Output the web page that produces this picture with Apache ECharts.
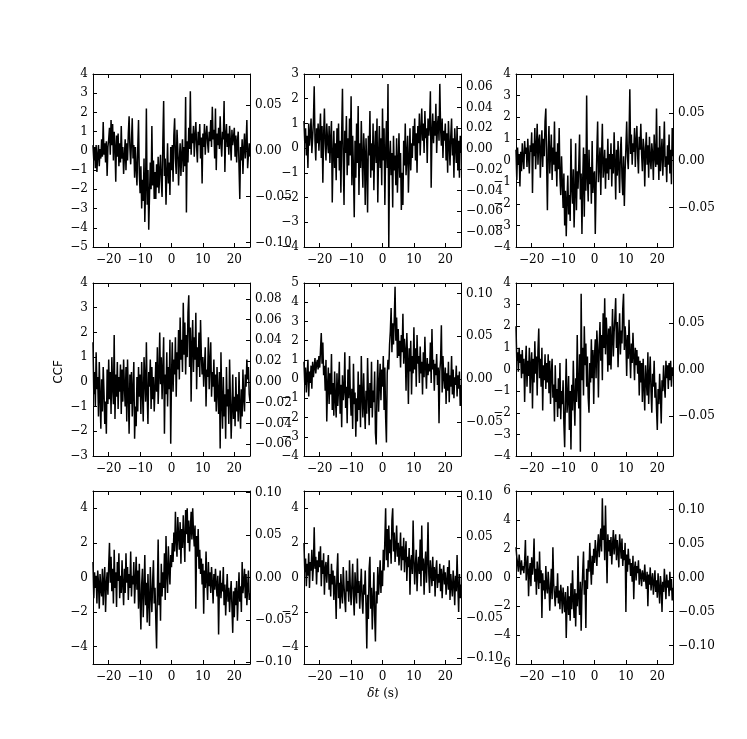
<!DOCTYPE html>
<html>
<head>
<meta charset="utf-8">
<script src="https://cdn.jsdelivr.net/npm/echarts@6/dist/echarts.min.js"></script>
<style>
  html, body { margin: 0; padding: 0; background: #fff; }
  #chart { width: 747px; height: 739px; }
</style>
</head>
<body>
<div id="chart"></div>
<script>
// lag axis: -25 s .. 25 s, one sample every 0.25 s
const lagStart = -25
const lagStep = 0.25
const xTicks = [-20, -10, 0, 10, 20]

// CCF values (row, column)
const ccf11 = [
  0.3, -0.5, 0.2, -0.9, 0.3, -1.1, -0.2, 0.3, -0.8, 0.1, -0.4, 0.6, -0.3, 1.5, -0.2, 0.4, -0.6, 0.5, -1.3, 0.2,
  0.6, 1.2, -0.2, 1.6, 0.3, 1.4, -0.5, 1.0, 0.2, -1.6, 0.8, -0.3, 0.9, -0.8, 0.4, -0.6, 1.3, -0.4, 0.2, -1.2,
  -0.3, 0.6, -1.0, 0.4, -0.5, 0.9, 1.8, 0.2, -0.7, 0.5, 1.7, -0.4, 0.3, -1.4, 0.2, -0.9, -1.8, 0.1, 1.6, -1.2,
  -2.2, -0.8, -3.0, -1.5, -2.6, -0.4, -3.7, -1.9, 2.2, -2.8, -1.0, -4.1, -2.3, -0.6, -2.0, 1.3, -1.8, -0.5, -2.5, -1.1,
  -2.5, -0.7, -1.9, -0.3, -2.2, -1.0, -0.2, -1.6, -2.4, 0.5, 2.6, -1.3, -0.4, -2.8, -1.1, 0.4, -1.7, -0.6, -2.3, 0.2,
  -1.0, 0.3, -1.6, 0.8, 1.7, -0.4, -1.2, 1.1, 0.1, -1.8, -0.5, 0.4, -1.3, -0.2, 0.6, -1.1, 0.2, -0.8, 2.8, -3.2,
  0.5, -0.6, 1.2, 0.1, 3.1, -0.2, 0.9, 0.4, 1.3, -0.3, 0.8, 1.5, 0.2, -0.6, 1.0, 0.3, 1.4, -0.4, 0.7, -1.7,
  0.9, 0.2, 1.4, -0.2, 0.8, 1.3, 0.4, -0.1, 1.0, 0.5, 1.6, 0.2, 2.3, 0.6, 1.1, -0.4, 2.2, -1.0, 0.9, 0.3,
  1.2, 0.1, 1.8, 0.4, -0.3, 1.0, 0.6, 2.6, -1.1, 0.8, 1.4, 0.2, 0.9, -0.2, 1.3, 0.5, -0.5, 1.1, 0.3, 0.7,
  1.2, -0.3, 0.8, -0.6, 0.5, 1.0, -0.8, -2.5, 0.2, -0.5, 0.6, -1.2, 0.1, 0.9, -0.4, 0.3, 1.6, -0.9, -0.2, 0.4,
  -0.3
]
const ccf12 = [
  1.1, 0.2, 0.8, -0.3, 0.5, -0.8, 1.0, 0.1, 0.6, 1.2, -0.2, 0.4, 1.1, 2.5, 0.3, -0.5, 0.8, 0.2, 1.0, -0.1,
  0.6, 1.4, -0.4, 0.9, -1.4, 0.5, 1.6, 0.2, -0.5, 1.0, 0.3, -0.2, 0.9, -0.6, 0.4, 1.1, -2.2, -0.3, 0.7, -0.8,
  0.2, -1.3, 0.8, -0.4, 1.0, -0.9, 0.3, -1.8, 0.6, 2.4, -0.5, -2.3, 0.7, -0.2, 1.3, -1.1, 0.4, -0.7, 1.2, -0.3,
  2.1, -1.5, 0.5, -0.9, -2.8, 0.3, -1.2, 1.0, -0.6, 1.7, -1.9, 0.2, -0.8, 1.1, -0.4, -1.6, 0.6, -0.2, -2.3, 0.4,
  -0.7, -2.6, 0.5, -0.3, 1.5, -1.2, 0.2, -0.9, 1.0, -1.7, -0.1, 0.7, -0.6, 1.2, -2.2, -0.3, 0.9, -0.8, 0.4, -1.5,
  1.6, -0.5, 0.8, -2.3, -0.2, 1.1, -0.8, 2.6, -4.0, -0.4, 0.3, -1.1, -0.2, -2.4, 0.5, -0.9, -0.3, -1.5, 0.4, -1.8,
  -0.6, 0.6, -1.2, -0.2, -2.5, -1.0, -2.3, 0.3, -0.7, 1.0, -1.1, -0.3, 0.5, -1.8, -0.5, 0.8, -0.9, 0.2, -0.4, 0.9,
  0.1, 1.2, -0.5, 0.6, -1.0, 0.9, 0.2, 1.4, -0.3, 0.7, 1.6, 0.3, 1.0, -0.2, 1.5, 0.4, 0.8, -0.6, 1.2, 0.5,
  1.0, 2.3, -1.6, 0.6, 1.4, 0.2, 1.1, 0.5, 1.8, -0.2, 0.9, 1.3, 0.3, 2.6, 0.8, 0.1, 1.2, -0.4, 0.7, 0.3,
  1.0, -0.5, 0.6, -1.0, 1.1, 0.2, -0.7, 0.5, 1.2, -0.3, 0.4, -1.2, 0.8, 0.1, -0.6, 0.9, -0.9, 0.3, -1.2, 0.5,
  -0.2
]
const ccf13 = [
  0.5, -0.9, 0.6, -0.2, 0.3, -1.2, 0.4, -0.5, 0.8, 0.1, -0.4, 0.9, 0.3, 0.6, -0.3, 1.0, 0.2, -0.6, 0.7, 0.4,
  1.3, -1.5, 0.8, 0.2, 1.5, -0.4, 0.6, 1.7, -0.2, 0.9, 1.2, -0.8, 0.5, 1.4, -0.3, 1.0, 0.2, 1.8, 2.4, -0.1,
  -2.3, 0.5, 1.6, -0.6, 0.3, 1.2, -0.9, 0.6, -0.2, 1.8, -0.5, 0.4, -1.2, 0.8, -0.4, 1.5, -0.8, -1.6, 0.2, -1.0,
  -2.2, -0.6, -3.0, -1.4, -3.5, -1.8, -0.7, -2.5, -1.6, -2.8, 1.0, -1.2, -2.0, -0.4, -3.1, -1.5, 0.8, -2.3, -0.5, -1.3,
  -0.2, 1.2, -1.8, -0.6, -3.4, -0.9, 0.6, -2.6, 0.3, -1.4, 3.0, -0.8, -1.9, 0.5, -1.1, -0.3, -2.0, 0.9, -1.5, -0.7,
  -0.5, -3.4, -1.2, 0.4, 1.8, -1.0, -0.2, 0.6, -1.6, 0.2, 1.7, -0.8, -0.3, 0.5, -1.3, 0.1, -0.6, 1.0, -0.9, 0.3,
  -0.4, 0.8, -1.2, 0.3, -0.6, 1.3, -0.1, -1.8, 0.5, -0.7, 0.9, -0.3, -1.5, 0.4, 1.1, -0.8, -1.6, 0.2, -2.1, -0.5,
  0.6, 1.8, 0.2, -0.4, 1.0, 3.3, 0.3, 1.2, -0.2, 0.8, 0.4, 1.5, -0.3, 0.9, 1.6, 0.2, -0.6, 1.1, 0.5, 1.7,
  0.3, -0.5, 1.0, 0.6, -1.2, 0.4, 1.3, -0.2, 0.7, -0.8, 1.1, 0.1, -0.4, 0.8, 0.3, -0.9, 1.2, 0.2, -0.3, 2.4,
  -0.2, 0.6, -0.9, 1.6, -0.5, 0.3, 1.0, -0.7, 0.4, 1.8, -0.3, 0.2, -1.0, 0.7, -0.2, 1.2, -0.6, 0.5, -1.1, 1.5,
  0.2
]
const ccf21 = [
  1.6, -0.5, 0.4, -1.0, 1.2, -0.3, 0.2, -1.4, 0.8, -0.6, -1.9, 0.1, -1.2, 0.6, -0.4, -1.7, -0.8, -2.1, 0.5, -0.9,
  0.9, -0.7, 0.4, -1.3, 1.0, -0.2, -0.9, 1.9, -1.5, 0.3, -0.6, 0.8, -1.1, 0.2, -0.4, 0.7, -1.3, 0.5, -0.8, 0.9,
  -0.2, -1.0, 0.6, -1.6, 0.9, -0.5, -2.1, 0.3, -0.9, 0.4, -1.4, -0.3, 0.8, -2.3, -1.0, -1.8, 0.2, -1.2, 0.6, -0.6,
  0.3, -1.3, 0.8, -0.4, -1.6, 1.0, 0.1, -0.8, 1.6, -0.5, -1.7, 0.4, -0.2, 0.9, -1.1, 0.6, -0.7, 0.2, -1.2, -0.3,
  0.8, -0.4, 1.4, -0.9, 0.2, 2.0, -0.1, 1.0, -0.7, 0.5, 1.8, -2.1, 0.3, -0.5, 1.2, -1.0, 0.6, -0.3, 1.7, -2.5,
  0.2, 1.6, -0.4, 0.9, 0.3, 1.8, -0.6, 1.2, 0.5, 2.1, 0.1, 2.6, 0.9, 1.7, 0.4, 3.2, 1.1, 2.4, 0.3, 1.9,
  1.0, 2.8, 3.5, 0.6, 2.2, -0.8, 1.5, 2.5, 0.4, 1.8, 0.9, 2.8, -0.3, 1.4, 0.6, 2.0, 0.2, 2.5, 1.1, 0.3,
  1.0, -0.2, 0.6, 1.4, -1.0, 0.5, 0.2, 1.8, -0.3, 0.8, 1.6, -0.6, 0.4, -0.2, 0.9, -0.8, 0.3, -1.2, 0.6, -0.4,
  -1.3, 0.4, -2.7, 1.2, -0.8, -1.9, 0.2, -1.4, -0.5, -2.3, 0.6, -1.0, -0.3, -1.7, 0.9, -0.6, -2.3, -1.1, 0.3, -1.5,
  -0.6, -1.8, 0.2, -1.2, -0.5, -1.6, 0.4, -1.0, -1.9, -0.3, -1.4, 0.5, -0.7, -1.2, 0.3, -0.2, 0.9, 0.1, 0.6, -0.5,
  -0.8
]
const ccf22 = [
  0.9, -0.3, 0.6, -0.7, 0.2, 1.0, -0.9, 0.4, -0.2, 0.7, -0.5, 0.9, 0.1, 0.6, 1.1, 0.3, 0.8, 1.0, 0.5, 1.2,
  0.6, 1.5, 2.4, 0.8, 1.9, 0.2, 0.7, -0.6, 1.0, -2.2, -0.4, 0.6, -1.3, 0.3, -0.8, 1.3, -1.6, -0.2, -1.9, 0.4,
  -1.0, -2.0, 0.3, -1.4, -0.5, 0.9, -1.8, -0.3, -2.5, 0.2, -1.1, -0.6, 1.4, -1.5, -0.4, -2.3, 0.5, -1.0, 1.2, -0.8,
  -1.9, -0.5, -2.6, 0.8, -1.3, -0.7, -3.0, -1.0, -2.2, 0.4, -1.6, -0.3, -2.5, 1.2, -0.9, -2.0, 0.3, -1.4, -2.6, -0.6,
  -1.8, 1.1, -0.8, -2.4, -0.2, -1.5, 0.9, -2.0, -0.6, -1.2, 0.4, -2.8, -3.4, -0.5, 1.0, -1.7, -0.3, 0.8, -1.1, 0.5,
  -0.4, 1.2, -1.6, 0.6, -2.0, -3.3, 0.3, 1.0, 0.5, 1.8, 2.5, 3.7, 1.4, 2.9, 1.8, 3.1, 4.8, 2.0, 3.2, 1.1,
  2.6, 1.2, 2.0, 0.6, 2.3, 1.4, 3.4, 0.8, 2.1, 1.5, -0.6, 2.4, 0.9, -1.3, 1.6, 0.4, 2.0, -0.8, 1.2, 0.3,
  2.7, 0.5, 1.6, -0.4, 2.3, 0.8, 1.2, -0.2, 1.7, 0.3, 0.9, -0.8, 1.4, 0.1, 2.2, 0.6, -0.5, 1.1, 0.2, 0.8,
  0.4, 1.9, -0.2, 2.6, 0.5, 1.0, -0.6, 0.8, 0.2, 1.3, -0.3, 0.6, -2.3, 0.4, 1.0, 2.8, -0.7, 1.2, 0.1, -0.5,
  0.6, -1.3, 0.3, -0.6, 0.9, -1.2, 0.2, -0.4, 1.2, -0.8, 0.5, -1.0, 0.1, -0.3, 0.7, -0.9, 0.2, -0.5, 0.4, -1.4,
  -0.3
]
const ccf23 = [
  2.0, 0.4, 0.8, -0.1, 1.0, 0.3, 0.7, -0.4, 0.9, -0.2, 0.5, -1.5, 0.2, 1.1, -0.8, 0.4, -0.3, 1.0, -1.1, 0.2,
  0.8, -1.8, 0.5, -0.6, 1.3, -0.2, 0.6, -1.2, 0.9, 1.9, -0.4, 0.5, -0.8, 1.0, -1.9, 0.2, -0.5, 0.7, -0.9, 0.3,
  -0.6, 0.7, -1.1, 0.4, -1.6, -0.2, 0.5, -1.3, -0.7, -2.4, 0.2, -1.5, -0.9, -2.2, -0.4, -1.8, 0.3, -2.3, -1.0, -1.6,
  -0.5, -2.5, -3.6, -1.2, 0.5, -2.0, -1.4, -0.3, -2.8, -1.0, -3.7, -0.7, -1.9, 0.4, -1.3, -2.6, -0.4, -1.5, 1.6, -0.9,
  -1.8, 0.7, -3.8, 3.5, -0.5, 1.0, -1.2, 2.0, 0.2, 1.2, -0.8, 0.6, -1.3, -2.0, 0.3, -0.6, 1.4, -0.4, 0.9, -1.6,
  0.6, 1.4, -0.4, 1.8, 0.9, -1.3, 1.1, 2.2, 0.4, 1.6, -0.5, 2.6, 1.0, 3.3, 0.7, 2.4, 1.5, -0.1, 1.9, 0.2,
  2.0, 0.0, 1.4, 2.8, 0.6, 1.7, 2.4, 3.3, 1.0, 2.2, 0.1, 1.5, 2.6, 0.7, 1.8, 1.2, 2.8, 3.5, 0.9, 2.0,
  1.3, -0.3, 1.6, 0.5, 2.3, 0.8, -0.4, 1.2, 0.3, 1.7, 0.6, -0.5, 1.0, 0.2, 0.9, -0.2, 0.6, -1.2, 0.4, -0.6,
  0.3, -1.5, 0.5, -0.8, -1.9, 0.2, -0.5, -1.2, 0.8, -1.6, -0.3, 0.6, -1.0, -2.0, -0.2, -0.8, 0.4, -1.3, -0.6, -1.8,
  -2.8, -0.9, -1.6, -0.2, -1.2, -2.5, -0.5, -1.0, 0.2, -0.7, -1.3, 0.4, -0.4, 0.2, -0.9, 0.3, -0.5, 0.4, -0.8, 0.1,
  -0.3
]
const ccf31 = [
  0.9, -1.2, 0.3, -0.6, 0.1, -1.5, 0.4, -0.3, -1.8, 0.2, -0.7, -1.1, 0.5, -1.6, -0.2, 0.6, -2.0, -0.4, 0.3, -1.0,
  0.7, 2.0, -0.3, 1.2, -0.8, 0.5, -1.5, 1.6, -0.6, 0.3, -1.7, 0.9, -0.2, 1.4, -1.2, 0.1, -0.9, 1.0, -0.4, -1.6,
  0.5, -0.9, 1.4, -0.3, 0.6, -1.3, 0.2, -0.6, 1.5, -1.1, 0.1, -0.4, 0.9, -1.5, -0.2, 1.2, -0.7, 0.4, -1.8, 0.8,
  -1.2, -3.0, -0.4, 0.5, -2.3, -0.8, 1.3, -1.6, -0.3, -2.6, 0.2, -1.4, -2.8, 0.6, -0.9, -2.0, -0.2, 1.0, -1.5, -0.6,
  -2.4, -4.1, -0.8, 2.2, -1.6, -0.3, -2.5, 0.8, -1.1, 0.3, -0.6, 1.4, -1.3, 2.4, 0.2, -0.9, 1.8, 0.5, -0.4, 1.3,
  0.6, 2.0, 0.9, 2.6, 1.5, 3.8, 2.1, 1.2, 3.5, 2.4, 1.6, 3.2, 0.8, 2.8, 1.7, 3.6, 2.2, 0.9, 3.9, 2.5,
  4.0, 2.0, 3.3, 1.5, 2.7, 3.8, 2.2, 4.0, 2.6, 1.8, 3.0, -1.8, 2.4, 1.2, 2.8, 0.5, 1.6, 0.2, 1.1, -0.4,
  0.8, -2.1, 0.4, -0.6, 1.5, -0.2, -1.3, 0.9, -0.5, 0.3, -0.9, 0.6, -0.3, -1.5, 0.2, -0.7, 0.5, -0.4, -1.1, 0.1,
  -3.3, -0.5, 0.4, -1.2, -0.3, -0.8, 0.6, -1.6, -0.4, -2.2, -0.9, 0.2, -1.4, -0.6, -2.0, -1.0, -0.2, -1.7, -3.2, -0.8,
  -2.3, -0.6, -1.6, -0.2, -2.5, -1.1, 0.3, -1.4, -0.5, -2.0, 0.9, -0.9, -0.3, 0.5, -1.2, 0.2, -1.6, -0.6, 0.4, -1.3,
  -0.9
]
const ccf32 = [
  2.0, 0.3, 1.1, -0.5, 0.8, 0.1, 1.4, -0.6, 0.9, 0.4, 1.6, -0.2, 0.7, 2.9, 0.5, 1.2, -0.4, 1.0, 0.3, 1.5,
  0.6, 1.8, -0.5, 1.0, 0.2, 1.4, -1.0, 0.5, 0.9, -0.3, 0.6, 1.3, -0.7, 0.2, -1.1, 0.8, -0.4, 0.4, -1.3, 0.1,
  -0.6, -2.4, 0.3, 1.4, -1.2, -0.3, -1.8, 0.2, -0.9, -1.5, 0.6, -0.5, -1.3, -2.0, 0.4, -0.8, -0.2, -1.4, 1.0, -0.6,
  -1.6, -0.4, 0.8, -1.1, -2.2, 0.3, -0.7, -1.5, 1.1, -0.9, -0.2, -1.8, -0.6, 0.5, -1.3, -2.1, -0.4, -1.0, 0.4, -1.7,
  -4.1, -1.0, -2.4, 0.5, 1.2, -1.8, -0.6, -3.0, -1.3, 0.3, -2.2, -3.7, -0.8, -1.5, 0.6, -1.0, -0.2, 1.0, -0.9, 0.4,
  -0.5, 1.6, 0.4, 2.2, 4.0, 1.0, 2.8, 0.6, 3.0, 1.4, 2.2, 0.8, 3.3, 4.0, 1.5, 2.6, 0.9, 1.8, 3.0, 1.2,
  2.0, 0.7, 1.5, 2.6, 0.4, 1.8, 1.0, 2.3, 0.3, 1.4, 2.1, -0.2, 1.2, 0.6, 1.7, -1.0, 0.9, 1.3, 0.2, 3.3,
  1.0, -0.4, 0.8, 1.6, -0.8, 0.6, 1.2, 0.2, 2.2, -0.5, 3.0, 0.4, 1.1, -1.0, 0.7, 1.5, -0.3, 0.9, 3.2, 0.2,
  -0.9, 1.0, 0.3, -0.5, 1.2, -0.2, 0.6, -1.1, 0.4, 1.0, -0.6, 0.2, -0.3, 0.8, -0.8, 0.5, -1.2, 0.1, 0.7, -0.4,
  0.3, -1.0, -0.2, 0.6, -0.7, 1.0, -1.3, 0.2, -0.5, -1.1, 0.4, -0.3, -1.6, 0.1, -0.8, 1.3, -0.5, -2.0, 0.2, -1.2,
  -0.4
]
const ccf33 = [
  2.1, 1.4, 1.0, 0.4, 1.6, 0.9, 0.2, 1.2, 0.5, 0.8, 0.3, 1.1, 2.6, -0.2, 0.7, 1.5, -1.3, 0.4, 1.0, -0.6,
  1.4, 0.2, 0.9, 2.7, -0.3, 0.6, -1.2, 1.1, 0.2, -0.8, 1.8, -0.4, 0.5, -2.8, 0.3, -0.9, -0.2, -1.5, 0.8, -0.7,
  -1.1, 0.4, -0.5, -2.3, -0.8, 0.6, -1.5, 2.1, -0.4, -1.2, -2.0, -0.6, -1.4, 0.3, -1.8, -0.9, -2.2, -0.5, -1.2, -2.5,
  -0.7, -1.6, -2.4, -1.0, -4.2, -1.8, -0.6, -2.6, -1.3, -3.0, -0.4, -2.2, 0.5, -1.5, -2.8, -0.8, -3.4, -1.1, -2.0, 1.5,
  -1.4, -2.6, -0.3, -3.7, -1.0, 0.4, 1.8, -1.2, -0.2, -3.5, 0.6, -0.8, 1.2, 0.4, 2.4, 0.8, -0.5, 1.5, 0.2, 2.0,
  1.0, 2.6, 1.6, 0.8, 2.2, 3.0, 1.4, 2.4, 3.4, 1.8, 5.5, 2.6, 3.6, 1.2, 5.0, 2.2, -0.4, 3.0, 1.8, 2.6,
  1.5, 2.8, 0.9, 2.2, 3.3, 1.6, 2.4, 3.0, 1.2, 2.6, 1.8, 0.7, 3.0, 2.2, 1.3, 2.7, 0.8, 1.9, 1.2, 2.4,
  -2.4, 1.6, 0.4, 2.0, 0.9, 1.3, 0.1, 1.0, -0.3, 1.5, -1.5, 0.6, 1.1, -0.2, 0.8, 0.3, 1.2, -0.5, 0.6, 0.2,
  -0.6, 0.5, 0.1, -0.3, 0.9, -0.1, -0.8, 0.4, -2.0, 0.2, -0.5, 0.7, -0.9, -0.2, 0.3, -1.2, -0.4, 0.5, -1.0, -0.2,
  -1.4, 0.3, -0.8, -1.8, 0.1, -0.6, -2.4, -0.3, -1.0, 0.6, -0.5, -1.5, 0.2, -0.7, -0.2, -1.3, 0.4, -0.9, -0.1, -1.6,
  -0.7
]
const panels = [ccf11, ccf12, ccf13, ccf21, ccf22, ccf23, ccf31, ccf32, ccf33]

// left (CCF) axis limits and tick values per panel
const leftMin = [-5, -4, -4, -3, -4, -4, -5, -5, -6]
const leftMax = [4, 3, 4, 4, 5, 4, 5, 5, 6]
const leftTicks = [
  [-5, -4, -3, -2, -1, 0, 1, 2, 3, 4],
  [-4, -3, -2, -1, 0, 1, 2, 3],
  [-4, -3, -2, -1, 0, 1, 2, 3, 4],
  [-3, -2, -1, 0, 1, 2, 3, 4],
  [-4, -3, -2, -1, 0, 1, 2, 3, 4, 5],
  [-4, -3, -2, -1, 0, 1, 2, 3, 4],
  [-4, -2, 0, 2, 4],
  [-4, -2, 0, 2, 4],
  [-6, -4, -2, 0, 2, 4, 6]
]
// right (normalised) axis limits and tick values per panel
const rightMin = [-0.105, -0.0947, -0.0916, -0.0714, -0.0899, -0.0934, -0.102, -0.107, -0.127]
const rightMax = [0.0841, 0.0725, 0.0916, 0.0952, 0.1124, 0.0934, 0.102, 0.107, 0.127]
const rightTicks = [
  [-0.10, -0.05, 0, 0.05],
  [-0.08, -0.06, -0.04, -0.02, 0, 0.02, 0.04, 0.06],
  [-0.05, 0, 0.05],
  [-0.06, -0.04, -0.02, 0, 0.02, 0.04, 0.06, 0.08],
  [-0.05, 0, 0.05, 0.10],
  [-0.05, 0, 0.05],
  [-0.10, -0.05, 0, 0.05, 0.10],
  [-0.10, -0.05, 0, 0.05, 0.10],
  [-0.10, -0.05, 0, 0.05, 0.10]
]

const colLeft = [93, 304, 516]
const rowTop = [74, 283, 491]
const boxW = 157
const boxH = 173

const tickFont = { fontFamily: 'DejaVu Serif', fontSize: 12, color: '#000' }
const minus = s => s.replace('-', '\u2212')

let grid = [], xAxis = [], yAxis = [], series = []

panels.forEach((vals, i) => {
  const r = Math.floor(i / 3), c = i % 3
  grid.push({ left: colLeft[c], top: rowTop[r], width: boxW, height: boxH })

  const frame = { show: true, onZero: false, lineStyle: { color: '#000', width: 1 } }
  const ticks = (list) => ({ show: true, inside: true, length: 4, customValues: list, lineStyle: { color: '#000' } })

  // bottom + top x axes
  xAxis.push({
    gridIndex: i, type: 'value', min: -25, max: 25,
    axisLine: frame, axisTick: ticks(xTicks), splitLine: { show: false },
    axisLabel: { ...tickFont, margin: 7, customValues: xTicks, formatter: v => minus(String(v)) }
  })
  xAxis.push({
    gridIndex: i, type: 'value', position: 'top', min: -25, max: 25,
    axisLine: frame, axisTick: ticks(xTicks), splitLine: { show: false },
    axisLabel: { show: false }
  })

  // left CCF axis + right twin axis
  yAxis.push({
    gridIndex: i, type: 'value', min: leftMin[i], max: leftMax[i],
    axisLine: frame, axisTick: ticks(leftTicks[i]), splitLine: { show: false },
    axisLabel: { ...tickFont, margin: 5, customValues: leftTicks[i], formatter: v => minus(String(v)) }
  })
  yAxis.push({
    gridIndex: i, type: 'value', position: 'right', min: rightMin[i], max: rightMax[i],
    axisLine: frame, axisTick: ticks(rightTicks[i]), splitLine: { show: false },
    axisLabel: {
      ...tickFont, margin: 5, customValues: rightTicks[i],
      formatter: v => (v < -1e-9 ? '\u2212' : '') + Math.abs(v).toFixed(2)
    }
  })

  series.push({
    type: 'line', xAxisIndex: 2 * i, yAxisIndex: 2 * i,
    data: vals.map((v, k) => [lagStart + k * lagStep, v]),
    showSymbol: false, symbol: 'none', silent: true,
    lineStyle: { color: '#000', width: 1.5 }
  })
})

const chart = echarts.init(document.getElementById('chart'), null, { renderer: 'canvas' })
chart.setOption({
  animation: false,
  backgroundColor: '#fff',
  grid, xAxis, yAxis, series,
  graphic: [
    {
      type: 'text', x: 59, y: 372, rotation: Math.PI / 2,
      style: { text: 'CCF', font: '12px "DejaVu Sans"', fill: '#000', align: 'center', verticalAlign: 'middle' }
    },
    {
      type: 'text', x: 383, y: 694,
      style: {
        text: '{i|δt}{r| (s)}', align: 'center', verticalAlign: 'middle', fill: '#000',
        rich: {
          i: { fontFamily: 'DejaVu Serif', fontStyle: 'italic', fontSize: 12 },
          r: { fontFamily: 'DejaVu Serif', fontStyle: 'normal', fontSize: 12 }
        }
      }
    }
  ]
})
</script>
</body>
</html>
